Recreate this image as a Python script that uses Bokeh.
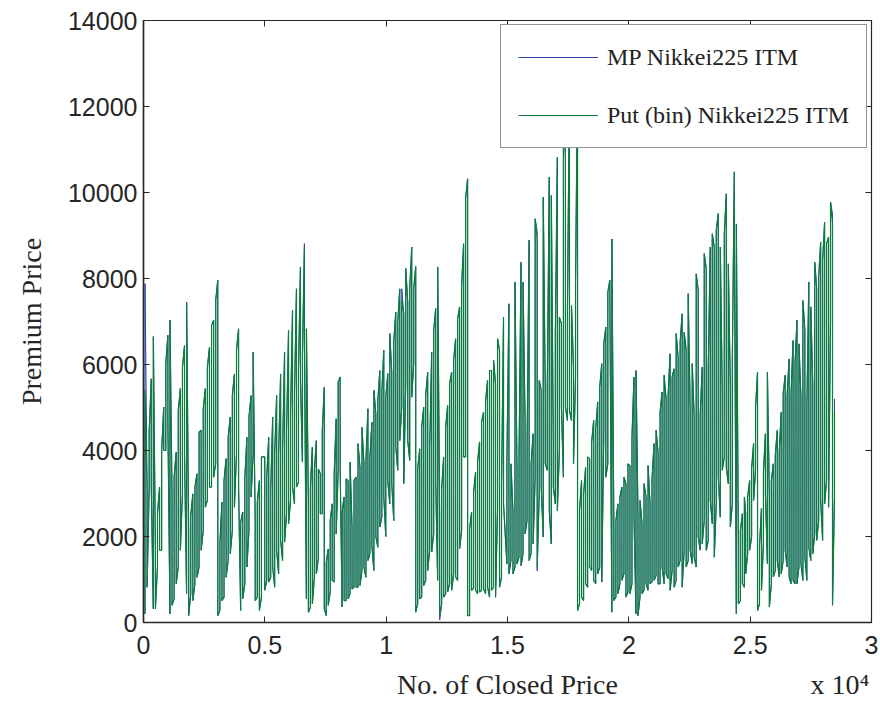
from bokeh.plotting import figure
from bokeh.models import Range1d, FixedTicker, LinearAxis
from bokeh.embed import file_html
from bokeh.resources import INLINE

# ---------------- data ----------------
# x-extent (No. of Closed Price) of each stretch of the series
seg_start = [62, 4996, 9984, 14975, 19881, 24815]
seg_end = [4860, 9902, 14836, 19799, 24761, 28474]

# Put (bin) Nikkei225 ITM : upper and lower end of each vertical swing
put_top_1 = [5400, 3150, 4430, 5670, 6650, 1710, 2530, 3150, 4000, 5010,
             6020, 6680, 7030, 2920, 3380, 3960, 4930, 5440, 5940, 6440,
             7450, 2060, 2490, 2990, 3150, 3460, 4430, 4470, 4970, 5440,
             5940, 6400, 6910, 7030, 7490, 7960, 1830, 2800, 3300, 3810,
             4310, 4780, 5280, 5780, 6330, 6830, 2330, 2570, 3340, 4310,
             4780, 5280, 6290, 2330, 2800, 3300, 3850]
put_bot_1 = [200, 820, 3150, 3150, 320, 320, 1290, 1680, 1680, 4000,
             4000, 4620, 200, 400, 550, 900, 1290, 1680, 2990, 3920,
             670, 160, 670, 510, 900, 1050, 1290, 1680, 2140, 2680,
             2840, 3150, 3150, 3380, 3690, 160, 280, 510, 590, 1050,
             1440, 1600, 2140, 2680, 3920, 3150, 280, 550, 900, 1290,
             2140, 2920, 3920, 510, 590, 280, 590]

put_top_2 = [3850, 3380, 4310, 3070, 4780, 3920, 5280, 3920, 5780, 4040,
             6290, 4470, 6790, 4850, 7260, 5360, 7760, 5860, 8270, 6250,
             8730, 6830, 2760, 3150, 4080, 3540, 4230, 3570, 3460, 4470,
             5470, 1400, 1710, 2370, 2760, 3460, 4740, 5590, 5710, 2570,
             2920, 3340, 3300, 3730, 2220, 3300, 3380, 4160, 3610, 4540,
             3690, 3770, 4970, 3850, 4660, 5400, 4850, 5160, 5860, 5360, 6330]
put_bot_2 = [750, 980, 940, 1050, 1290, 820, 1680, 1130, 1910, 1440,
             1870, 2530, 2300, 2840, 3150, 2760, 3150, 3260, 5630, 3730,
             6400, 550, 240, 350, 430, 1050, 1130, 1480, 2530, 2530,
             320, 160, 400, 710, 980, 940, 2060, 3540, 3610, 360,
             510, 510, 550, 670, 780, 820, 820, 820, 860, 1210,
             1290, 1050, 1440, 1600, 1790, 1210, 1990, 1750, 2220, 2450, 2920]

put_top_3 = [5240, 5790, 6720, 5820, 6520, 7220, 6990, 7760, 7500, 7180,
             8230, 7450, 7760, 8730, 7760, 8280, 3580, 4040, 4540, 5010,
             5280, 5820, 4080, 6290, 6790, 7300, 8270, 2370, 3110, 3850,
             4540, 5050, 5550, 5820, 6100, 6600, 7060, 7340, 7840, 8810,
             9860, 10320, 2180, 2570, 3030, 3500, 3730, 4200, 4660, 4890,
             5130, 5630, 5860, 5860, 6100, 5550, 6600, 6330, 3150, 7100]
put_bot_3 = [2000, 3300, 2760, 3230, 2370, 4080, 3540, 4230, 5010, 3230,
             5550, 4230, 3770, 5240, 6020, 240, 440, 550, 590, 860,
             980, 1210, 1680, 1640, 2060, 3300, 980, 160, 430, 590,
             670, 710, 900, 750, 1130, 1060, 980, 1720, 2140, 3850,
             3850, 160, 160, 750, 790, 750, 670, 710, 750, 790,
             670, 820, 590, 750, 820, 590, 2610, 820, 1050, 2760]

put_top_4 = [3770, 7410, 3690, 2600, 7920, 3610, 3770, 8380, 7920, 4700,
             4160, 8890, 3690, 4390, 9390, 8920, 5630, 5400, 9890, 5400,
             5470, 10360, 9930, 4160, 6710, 10820, 7100, 6950, 12300, 10790,
             7330, 12500, 7370, 5940, 7880, 12700, 2610, 3300, 2990, 3610,
             3850, 3810, 4200, 4700, 4500, 5130, 5470, 6020, 6480, 6870,
             7680, 7960, 8920, 2140, 2370, 2760, 2920, 3150, 3380]
put_bot_4 = [1360, 1130, 1440, 1130, 1290, 1360, 1520, 1320, 1600, 2060,
             2370, 1440, 1600, 1830, 3380, 1290, 2990, 3150, 1990, 3690,
             3540, 2600, 1830, 3150, 2760, 2600, 4000, 5010, 3380, 5010,
             4700, 4930, 4700, 3690, 5710, 280, 440, 590, 510, 900,
             820, 1290, 1210, 980, 900, 1130, 1290, 940, 4390, 3380,
             3690, 7640, 240, 510, 590, 670, 900, 980, 1130]

put_top_5 = [3230, 3690, 3650, 4310, 5710, 5860, 2490, 2840, 2300, 3230,
             2920, 3650, 2760, 3340, 4160, 4470, 3960, 4890, 5360, 5750,
             5200, 5280, 6250, 5710, 5900, 6720, 6170, 6520, 7180, 6750,
             6330, 7650, 4930, 6020, 4780, 8110, 7720, 4850, 5940, 8580,
             8230, 5940, 8730, 9040, 8730, 9120, 9510, 8730, 5320, 9040,
             9970, 8340, 5320, 6170, 10480, 9270, 1830, 2140, 2530, 2920]
put_bot_5 = [590, 710, 670, 900, 2450, 200, 160, 590, 670, 750,
             900, 750, 900, 940, 980, 1090, 900, 900, 1290, 900,
             1130, 1020, 750, 1210, 820, 980, 1290, 1440, 820, 1680,
             1290, 1440, 1680, 1370, 1520, 1290, 1990, 1680, 1830, 2370,
             1680, 1910, 2840, 2300, 1520, 2760, 3380, 2450, 3540, 3850,
             3610, 3230, 2220, 2760, 9200, 200, 430, 510, 900, 820]

put_top_6 = [2530, 2920, 3300, 3580, 4160, 5010, 5820, 1790, 2650, 3500,
             4390, 5820, 2920, 3300, 3690, 3880, 4470, 3960, 4890, 5320,
             5750, 5280, 6130, 5320, 6560, 6020, 7030, 6480, 5240, 7490,
             6790, 5010, 7920, 7340, 5550, 8380, 7760, 8030, 8850, 8420,
             9310, 8810, 8960, 9780, 9310, 4890]
put_bot_6 = [1130, 1600, 1680, 1990, 2840, 3540, 280, 430, 750, 1830,
             3000, 1370, 360, 900, 1060, 1210, 1440, 1060, 1130, 1440,
             1680, 1290, 1060, 900, 980, 900, 900, 1290, 1370, 980,
             1520, 980, 1750, 1440, 1600, 2060, 1910, 2370, 2840, 1910,
             2760, 3300, 2680, 7020, 400, 2920]

# MP Nikkei225 ITM : follows the Put series except at these swings
# (stretch, swing, top, bottom)
mp_diff = [(0, 0, 7880, 200), (1, 20, 8810, 6400), (2, 8, 7760, 5010),
           (2, 27, 2370, 60), (4, 52, 5600, 2220), (5, 44, 9500, 400),
           (5, 45, 5200, 2920), (3, 15, 9100, 1200)]

y_ticks = [0, 2000, 4000, 6000, 8000, 10000, 12000, 14000]
x_ticks = [0, 5000, 10000, 15000, 20000, 25000, 30000]
x_tick_labels = ["0", "0.5", "1", "1.5", "2", "2.5", "3"]
x_title = "No. of Closed Price"
x_scale_note = "x 10\u2074"

put_tops = [put_top_1, put_top_2, put_top_3, put_top_4, put_top_5, put_top_6]
put_bots = [put_bot_1, put_bot_2, put_bot_3, put_bot_4, put_bot_5, put_bot_6]
mp_tops = [list(t) for t in put_tops]
mp_bots = [list(b) for b in put_bots]
for s, i, t, b in mp_diff:
    mp_tops[s][i] = t
    mp_bots[s][i] = b


def build(tops_list, bots_list):
    xs, ys = [], []
    k = 0
    for x0, x1, tops, bots in zip(seg_start, seg_end, tops_list, bots_list):
        n = len(tops)
        step = (x1 - x0) / (n - 1)
        for i in range(n):
            x = x0 + i * step
            if k % 2 == 0:
                xs += [x, x + 1]
                ys += [bots[i], tops[i]]
            else:
                xs += [x, x + 1]
                ys += [tops[i], bots[i]]
            k += 1
    return xs, ys


mp_x, mp_y = build(mp_tops, mp_bots)
put_x, put_y = build(put_tops, put_bots)

# ---------------- figure ----------------
AX = "#262626"
p = figure(width=880, height=704, output_backend="svg", toolbar_location=None,
           x_range=Range1d(0, 30000), y_range=Range1d(0, 14000),
           min_border_left=143, min_border_right=9, min_border_top=20,
           min_border_bottom=82)
p.xgrid.visible = False
p.ygrid.visible = False
p.outline_line_color = AX
p.outline_line_width = 1.2
p.background_fill_color = "white"
p.border_fill_color = "white"

p.line(mp_x, mp_y, color="#2a44a6", line_width=1.0, legend_label="MP Nikkei225 ITM")
p.line(put_x, put_y, color="#0a7d3c", line_width=1.2, legend_label="Put (bin) Nikkei225 ITM")

for ax in (p.xaxis[0], p.yaxis[0]):
    ax.major_tick_in = 6
    ax.major_tick_out = 0
    ax.minor_tick_in = 0
    ax.minor_tick_out = 0
    ax.axis_line_color = AX
    ax.axis_line_width = 1.5
    ax.major_tick_line_color = AX
    ax.major_label_text_font = "Liberation Sans"
    ax.major_label_text_font_size = "25px"
    ax.major_label_text_color = AX
    ax.axis_label_text_font = "Liberation Serif"
    ax.axis_label_text_font_size = "28px"
    ax.axis_label_text_font_style = "normal"
    ax.axis_label_text_color = AX

p.xaxis[0].ticker = FixedTicker(ticks=x_ticks)
p.xaxis[0].major_label_overrides = {t: l for t, l in zip(x_ticks, x_tick_labels)}
p.xaxis[0].major_label_standoff = 13

p.yaxis[0].ticker = FixedTicker(ticks=y_ticks)
p.yaxis[0].major_label_standoff = 6
p.yaxis[0].axis_label = "Premium Price"
p.yaxis[0].axis_label_standoff = 18

# second row under the x axis: axis title and the "x 10^4" scale note
title_pos = (x_ticks[0] + x_ticks[-1]) / 2
note_pos = 28700
ax2 = LinearAxis(ticker=FixedTicker(ticks=[title_pos, note_pos]),
                 major_label_overrides={title_pos: x_title, note_pos: x_scale_note},
                 axis_line_color=None, major_tick_line_color=None,
                 minor_tick_line_color=None, major_tick_in=0, major_tick_out=0,
                 minor_tick_in=0, minor_tick_out=0, major_label_standoff=12,
                 major_label_text_font="Liberation Serif",
                 major_label_text_font_size="28px", major_label_text_color=AX)
p.add_layout(ax2, "below")

for loc, tk in (("right", y_ticks), ("above", x_ticks)):
    a = LinearAxis(ticker=FixedTicker(ticks=tk), major_label_text_font_size="1px",
                   major_label_text_color=None,
                   major_label_standoff=0, major_tick_in=6, major_tick_out=0,
                   minor_tick_in=0, minor_tick_out=0, axis_line_color=AX,
                   major_tick_line_color=AX)
    p.add_layout(a, loc)

lg = p.legend[0]
lg.location = "top_right"
lg.margin = 4
lg.padding = 17
lg.spacing = 28
lg.glyph_width = 80
lg.glyph_height = 30
lg.label_height = 30
lg.label_standoff = 9
lg.label_text_font = "Liberation Serif"
lg.label_text_font_size = "24px"
lg.label_text_color = "#222222"
lg.border_line_color = AX
lg.border_line_width = 1
lg.background_fill_alpha = 1.0

open("out.html", "w").write(file_html(p, INLINE))
